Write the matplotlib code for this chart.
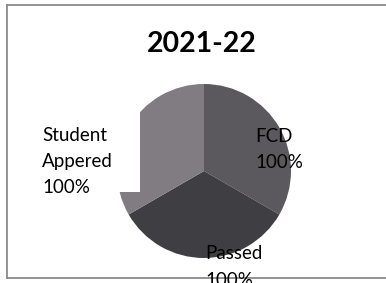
import matplotlib
matplotlib.use("Agg")
import matplotlib.pyplot as plt
from matplotlib.patches import Rectangle

# Data
title = "2021-22"
categories = ["FCD", "Passed", "Student\nAppered"]
values = [100, 100, 100]
label_pct = ["100%", "100%", "100%"]
colors = ["#5b595e", "#3f3e42", "#817b82"]

W, H = 386, 283
plt.rcParams['font.family'] = ['Lato', 'DejaVu Sans']

fig = plt.figure(figsize=(W / 100, H / 100), dpi=100)


def px(x, y):
    # pixel position -> figure fraction
    return x / W, 1 - y / H


# chart area with its border (right edge runs off the picture)
ax_bg = fig.add_axes([7 / W, 1 - 278 / H, 1.0, 273 / H])
ax_bg.set_xticks([])
ax_bg.set_yticks([])
for s in ax_bg.spines.values():
    s.set_color("#8a8a8a")
    s.set_linewidth(1.3)

# pie
r = 87
cx, cy = 204, 171
ax = fig.add_axes([(cx - r) / W, 1 - (cy + r) / H, 2 * r / W, 2 * r / H])
ax.pie(values, colors=colors, startangle=90, counterclock=False,
       wedgeprops=dict(linewidth=0))
ax.set_xlim(-1, 1)
ax.set_ylim(-1, 1)
ax.set_aspect("equal")
ax.axis("off")

fig.text(*px(202, 52), title, ha="center", va="baseline",
         fontsize=20.5, fontweight="bold")

# white background of the "Student Appered" label
x0, y0 = px(27, 192)
x1, y1 = px(140, 105)
ax.add_patch(Rectangle((x0, y0), x1 - x0, y1 - y0, transform=fig.transFigure,
                       fc="white", ec="none", zorder=4, clip_on=False))

# data labels: (x, baseline of first line)
label_pos = [(255, 137), (205, 254), (42, 136)]
step = 25.5
for cat, pct, (x, y) in zip(categories, label_pct, label_pos):
    txt = cat + "\n" + pct
    y_last = y + step * txt.count("\n") + 6
    t = ax.text(*px(x, y_last), txt, transform=fig.transFigure,
                ha="left", va="baseline", fontsize=13.5, linespacing=1.66,
                color="black", zorder=5)
    t.set_clip_path(ax_bg.patch)

fig.savefig("out.png", dpi=100)
